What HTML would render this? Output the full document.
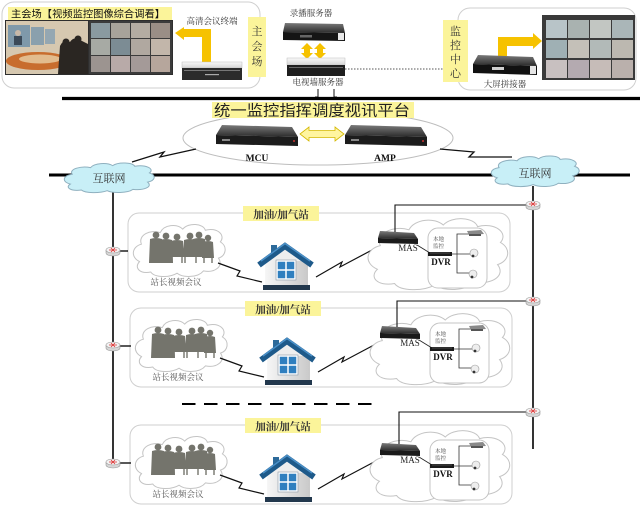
<!DOCTYPE html>
<html><head><meta charset="utf-8">
<style>
html,body{margin:0;padding:0;background:#fff;}
svg{display:block;}
text{font-family:"Liberation Serif","Noto Serif CJK SC",serif;}
.s{font-family:"Liberation Sans","Noto Sans CJK SC",sans-serif;}
</style></head><body>
<svg width="640" height="505" viewBox="0 0 640 505" xmlns="http://www.w3.org/2000/svg">
<defs>
 <linearGradient id="dk" x1="0" y1="0" x2="0" y2="1"><stop offset="0" stop-color="#7a7a7a"/><stop offset="1" stop-color="#2a2a2a"/></linearGradient>
 <linearGradient id="lt" x1="0" y1="0" x2="0" y2="1"><stop offset="0" stop-color="#fafafa"/><stop offset="1" stop-color="#d4d4d4"/></linearGradient>
 <linearGradient id="wall" x1="0" y1="0" x2="1" y2="0"><stop offset="0" stop-color="#f6f6f6"/><stop offset="1" stop-color="#c9c9c9"/></linearGradient>
 <g id="rt">
  <path d="M-7,-1 v3 a7,3 0 0 0 14,0 v-3" fill="#d6d6d6" stroke="#999" stroke-width=".6"/>
  <ellipse cx="0" cy="-1" rx="7" ry="3" fill="#f3f3f3" stroke="#999" stroke-width=".6"/>
  <path d="M-4,-1 h8 M-2,-3 l4,4 M2,-3 l-4,4" stroke="#d33" stroke-width=".8" fill="none"/>
 </g>
 <g id="station">
  <rect x="128" y="213" width="382" height="79" rx="11" fill="#fff" stroke="#cfcfcf"/>
  <path d="M8,70 C-2,62 0,44 10,40 C6,24 20,14 30,20 C34,6 48,4 54,14 C60,2 76,4 78,16 C90,10 100,24 94,36 C102,44 100,60 92,64 C98,78 88,90 76,86 C70,98 54,98 48,90 C40,98 24,98 20,88 C8,92 2,80 8,70 Z" transform="translate(132,221) scale(.94,.58)" fill="#fff" stroke="#c4c4c4" vector-effect="non-scaling-stroke"/>
  <g fill="#74746c">
   <circle cx="156" cy="235" r="3.4"/><path d="M150,239 Q156,237 162,239 L163,263 L149,263 Z"/>
   <circle cx="166" cy="236" r="3.4"/><path d="M160,240 Q166,238 172,240 L173,263 L159,263 Z"/>
   <circle cx="177" cy="237" r="3.4"/><path d="M171,241 Q177,239 183,241 L184,257 L170,257 Z"/>
   <circle cx="190" cy="236" r="3.4"/><path d="M184,240 Q190,238 196,240 L197,257 L183,257 Z"/>
   <circle cx="199" cy="235" r="3.4"/><path d="M193,239 Q199,237 205,239 L206,257 L192,257 Z"/>
   <circle cx="208" cy="238" r="3.2"/><path d="M203,242 Q208,240 213,242 L214,258 L202,258 Z"/>
   <rect x="168" y="250" width="40" height="3"/>
  </g>
  <path d="M172,257 v6 M182,257 v6 M185,257 v6 M196,257 v6 M204,258 v5 M212,258 v5" stroke="#74746c" stroke-width="1.4"/>
  <text x="176" y="285" text-anchor="middle" font-size="8.5" fill="#555">站长视频会议</text>
  <polyline points="218,263 240,271 237,276 262,282" fill="none" stroke="#111" stroke-width="1.2"/>
  <rect x="271" y="245" width="6" height="10" fill="#2d6a9a"/>
  <rect x="265" y="258" width="43" height="28" fill="url(#wall)"/>
  <polygon points="266,261 285,248 306,261" fill="#eeeeee"/>
  <path d="M259,265 L285,246 L312,265" fill="none" stroke="#1e5a8a" stroke-width="6" stroke-linejoin="miter"/>
  <path d="M261,261 L285,243.5 L310,261" fill="none" stroke="#4a90c8" stroke-width="1.5"/>
  <rect x="277" y="261" width="18" height="18" fill="#2f7fbf" stroke="#fff" stroke-width="1.5"/>
  <path d="M286,261 v18 M277,270 h18" stroke="#fff" stroke-width="1.5"/>
  <rect x="276" y="260" width="20" height="20" fill="none" stroke="#8a9aa8" stroke-width=".6"/>
  <rect x="263" y="285" width="47" height="5" fill="#22384d"/>
  <polyline points="316,277 342,262 340,267 372,250" fill="none" stroke="#111" stroke-width="1.2"/>
  <path d="M8,70 C-2,62 0,44 10,40 C6,24 20,14 30,20 C34,6 48,4 54,14 C60,2 76,4 78,16 C90,10 100,24 94,36 C102,44 100,60 92,64 C98,78 88,90 76,86 C70,98 54,98 48,90 C40,98 24,98 20,88 C8,92 2,80 8,70 Z" transform="translate(366,214) scale(1.43,.79)" fill="#fff" stroke="#c4c4c4" vector-effect="non-scaling-stroke"/>
  <rect x="428" y="228" width="59" height="60" rx="10" fill="#fff" stroke="#c4c4c4"/>
  <polygon points="380,231 414,233 418,239 378,238" fill="url(#dk)"/>
  <polygon points="378,238 418,239 418,244 378,243" fill="#1a1a1a"/>
  <text x="408" y="251" text-anchor="middle" font-size="9" fill="#222">MAS</text>
  <line x1="417" y1="245" x2="430" y2="253" stroke="#222" stroke-width=".8"/>
  <rect x="428" y="252" width="24" height="4" fill="#1a1a1a"/>
  <line x1="430" y1="253" x2="450" y2="253" stroke="#777" stroke-width=".5"/>
  <text x="441" y="265" text-anchor="middle" font-size="9" font-weight="bold" fill="#111">DVR</text>
  <text x="433" y="241" font-size="5.5" fill="#444">本地</text>
  <text x="433" y="248" font-size="5.5" fill="#444">监控</text>
  <path d="M470,234 H457 V273 H470 M452,254 H471" fill="none" stroke="#333" stroke-width=".8"/>
  <polygon points="467,231 481,230 484,234 469,235" fill="#8a8a8a"/>
  <rect x="469" y="234" width="12" height="2" fill="#555"/>
  <circle cx="474" cy="253" r="4" fill="#eee" stroke="#999" stroke-width=".6"/>
  <circle cx="473" cy="256" r="1.4" fill="#333"/>
  <circle cx="473" cy="274" r="4" fill="#eee" stroke="#999" stroke-width=".6"/>
  <circle cx="472" cy="277" r="1.4" fill="#333"/>
  <rect x="243" y="206" width="76" height="15" fill="#fbf49a"/>
  <text x="281" y="218" text-anchor="middle" font-size="10.5" font-weight="bold" fill="#333">加油/加气站</text>
 </g>
</defs>

<rect x="2" y="2" width="258" height="86" rx="12" fill="#fff" stroke="#cfcfcf"/>
<rect x="8" y="7" width="164" height="13" fill="#fbf49a"/>
<text class="s" x="11" y="17.5" font-size="10" fill="#111" textLength="154" lengthAdjust="spacingAndGlyphs">主会场【视频监控图像综合调看】</text>
<rect x="5" y="20" width="168" height="55" fill="#2e2e2e"/>
<rect x="6" y="21" width="82" height="53" fill="#d6c8b0"/>
<rect x="8" y="25" width="22" height="22" fill="#7f99aa"/>
<rect x="31" y="27" width="13" height="18" fill="#8aa0ad"/>
<rect x="45" y="29" width="10" height="15" fill="#94a7b2"/>
<circle cx="18" cy="33" r="3" fill="#c8b8a8"/><rect x="14" y="36" width="8" height="9" fill="#3c4a58"/>
<ellipse cx="38" cy="61" rx="32" ry="9" fill="#c86d2e"/>
<ellipse cx="40" cy="59" rx="21" ry="4.5" fill="#e2bc8e"/>
<path d="M58,74 L60,46 Q64,38 70,42 Q74,36 80,40 L88,44 L88,74 Z" fill="#2a2622"/>
<circle cx="66" cy="42" r="3.5" fill="#2a2622"/><circle cx="78" cy="39" r="3.5" fill="#2a2622"/>
<rect x="89" y="21" width="83" height="53" fill="#3b3b3b"/>
<g>
 <rect x="91" y="23" width="19" height="15" fill="#8a9aa0"/><rect x="111" y="23" width="19" height="15" fill="#a8a39a"/><rect x="131" y="23" width="19" height="15" fill="#b4aca2"/><rect x="151" y="23" width="19" height="15" fill="#9a8e86"/>
 <rect x="91" y="39" width="19" height="16" fill="#a7aaa4"/><rect x="111" y="39" width="19" height="16" fill="#7c8c94"/><rect x="131" y="39" width="19" height="16" fill="#b0a8a0"/><rect x="151" y="39" width="19" height="16" fill="#c2b6aa"/>
 <rect x="91" y="56" width="19" height="16" fill="#9c9490"/><rect x="111" y="56" width="19" height="16" fill="#b8aaa8"/><rect x="131" y="56" width="19" height="16" fill="#a49a98"/><rect x="151" y="56" width="19" height="16" fill="#b6a69c"/>
</g>
<text x="212" y="24" text-anchor="middle" font-size="8.5" fill="#333">高清会议终端</text>
<path d="M202,62 V29 H184 V27 L175,33 L184,40 V37 H211 V62 Z" fill="#f6c200"/>
<rect x="202" y="29" width="9" height="33" fill="#f6c200"/>
<rect x="182" y="62" width="60" height="6" fill="url(#lt)" stroke="#bbb" stroke-width=".5"/>
<rect x="182" y="68" width="60" height="12" fill="#2b2b2b"/>
<rect x="184" y="70" width="56" height="1" fill="#777"/>
<rect x="205" y="74" width="14" height="1.2" fill="#aaa"/>
<rect x="248" y="17" width="18" height="60" fill="#fbf49a"/>
<text x="257" y="35" text-anchor="middle" font-size="11" fill="#333">主</text>
<text x="257" y="50" text-anchor="middle" font-size="11" fill="#333">会</text>
<text x="257" y="65" text-anchor="middle" font-size="11" fill="#333">场</text>
<text x="311" y="16" text-anchor="middle" font-size="8.5" fill="#333">录播服务器</text>
<polygon points="285,23 343,24 345,33 283,32" fill="url(#dk)"/>
<polygon points="283,32 345,33 345,41 283,40" fill="#151515"/>
<rect x="338" y="33" width="6" height="7" fill="#e8e8e8"/>
<rect x="300" y="35" width="12" height="2.5" fill="#666"/>
<polygon points="307,43 313,49 310,49 310,53 313,53 307,59 301,53 304,53 304,49 301,49" fill="#f6c200"/>
<polygon points="320,43 326,49 323,49 323,53 326,53 320,59 314,53 317,53 317,49 314,49" fill="#f6c200"/>
<rect x="287" y="58" width="58" height="7" fill="url(#lt)" stroke="#bbb" stroke-width=".5"/>
<rect x="287" y="65" width="58" height="11" fill="#1e1e1e"/>
<rect x="289" y="67" width="54" height="1" fill="#666"/>
<text x="318" y="85" text-anchor="middle" font-size="8.5" fill="#333">电视墙服务器</text>
<path d="M318,89 V97 M315,97 H318 M334,89 V97 M334,97 H337" stroke="#111" stroke-width="1"/>
<line x1="345" y1="69" x2="443" y2="69" stroke="#777" stroke-width="1.2" stroke-dasharray="1.5 1.5"/>
<rect x="458" y="8" width="178" height="82" rx="12" fill="#fff" stroke="#cfcfcf"/>
<rect x="443" y="20" width="25" height="62" fill="#fbf49a"/>
<text x="455.5" y="35" text-anchor="middle" font-size="11" fill="#333">监</text>
<text x="455.5" y="49" text-anchor="middle" font-size="11" fill="#333">控</text>
<text x="455.5" y="63" text-anchor="middle" font-size="11" fill="#333">中</text>
<text x="455.5" y="77" text-anchor="middle" font-size="11" fill="#333">心</text>
<path d="M498,56 V37 H533 V33 L542,41 L533,49 V46 H507 V56 Z" fill="#f6c200"/>
<polygon points="478,55 533,57 537,66 473,64" fill="url(#dk)"/>
<polygon points="473,64 537,66 537,75 473,73" fill="#111"/>
<rect x="530" y="66" width="6" height="8" fill="#e6e6e6"/>
<rect x="492" y="67" width="12" height="3" fill="#cfcfcf"/>
<text x="505" y="87" text-anchor="middle" font-size="8.5" fill="#333">大屏拼接器</text>
<rect x="542" y="15" width="93" height="65" fill="#3a3a3a"/>
<g>
 <rect x="546" y="20" width="21" height="18" fill="#b8c4c8"/><rect x="568" y="20" width="21" height="18" fill="#a9b2b0"/><rect x="590" y="20" width="21" height="18" fill="#c2c6c2"/><rect x="612" y="20" width="21" height="18" fill="#aab6b8"/>
 <rect x="546" y="40" width="21" height="18" fill="#9fb0b4"/><rect x="568" y="40" width="21" height="18" fill="#c4c0b8"/><rect x="590" y="40" width="21" height="18" fill="#b2bab8"/><rect x="612" y="40" width="21" height="18" fill="#bcb8b0"/>
 <rect x="546" y="60" width="21" height="18" fill="#c8c0c0"/><rect x="568" y="60" width="21" height="18" fill="#b4aab0"/><rect x="590" y="60" width="21" height="18" fill="#c6bcb8"/><rect x="612" y="60" width="21" height="18" fill="#bab0ac"/>
</g>

<line x1="62" y1="98.5" x2="640" y2="98.5" stroke="#000" stroke-width="3.2"/>

<ellipse cx="318" cy="138" rx="135" ry="27" fill="#fff" stroke="#bdbdbd"/>
<rect x="212" y="102" width="202" height="16" fill="#fbf49a"/>
<text class="s" x="214" y="115.5" font-size="15" fill="#222" textLength="196" lengthAdjust="spacingAndGlyphs">统一监控指挥调度视讯平台</text>
<polygon points="222,125 292,127 298,137 216,135" fill="url(#dk)"/>
<polygon points="216,135 298,137 298,146 216,144" fill="#1c1c1c"/>
<rect x="222" y="139" width="8" height="2" fill="#888"/>
<circle cx="294" cy="141" r="1" fill="#c33"/>
<polygon points="351,125 421,127 427,137 345,135" fill="url(#dk)"/>
<polygon points="345,135 427,137 427,146 345,144" fill="#1c1c1c"/>
<rect x="351" y="139" width="8" height="2" fill="#888"/>
<circle cx="423" cy="141" r="1" fill="#c33"/>
<polygon points="300,134 309,127 309,130.5 335,130.5 335,127 344,134 335,141 335,137.5 309,137.5 309,141" fill="#fff5a0" stroke="#d4b800" stroke-width=".8"/>
<text x="257" y="161" text-anchor="middle" font-size="9.5" font-weight="bold" fill="#111">MCU</text>
<text x="385" y="161" text-anchor="middle" font-size="9.5" font-weight="bold" fill="#111">AMP</text>
<polyline points="132,162 164,152 160,157 196,149" fill="none" stroke="#111" stroke-width="1.3"/>
<polyline points="440,149 474,152 469,157 512,157" fill="none" stroke="#111" stroke-width="1.3"/>

<line x1="49" y1="175" x2="630" y2="175" stroke="#000" stroke-width="3"/>
<line x1="113" y1="190" x2="113" y2="464" stroke="#000" stroke-width="1.6"/>
<line x1="533" y1="186" x2="533" y2="449" stroke="#000" stroke-width="1.6"/>
<path d="M8,70 C-2,62 0,44 10,40 C6,24 20,14 30,20 C34,6 48,4 54,14 C60,2 76,4 78,16 C90,10 100,24 94,36 C102,44 100,60 92,64 C98,78 88,90 76,86 C70,98 54,98 48,90 C40,98 24,98 20,88 C8,92 2,80 8,70 Z" transform="translate(63,161) scale(.92,.33)" fill="#c8eff7" stroke="#8fb0bf" vector-effect="non-scaling-stroke"/>
<text x="109" y="182" text-anchor="middle" font-size="11" fill="#333">互联网</text>
<path d="M8,70 C-2,62 0,44 10,40 C6,24 20,14 30,20 C34,6 48,4 54,14 C60,2 76,4 78,16 C90,10 100,24 94,36 C102,44 100,60 92,64 C98,78 88,90 76,86 C70,98 54,98 48,90 C40,98 24,98 20,88 C8,92 2,80 8,70 Z" transform="translate(490,154) scale(.9,.34)" fill="#c8eff7" stroke="#8fb0bf" vector-effect="non-scaling-stroke"/>
<text x="535" y="177" text-anchor="middle" font-size="11" fill="#333">互联网</text>

<use href="#station"/>
<use href="#station" transform="translate(2,95)"/>
<use href="#station" transform="translate(2,212)"/>

<line x1="182" y1="404" x2="374" y2="404" stroke="#000" stroke-width="2" stroke-dasharray="13.5 8.5"/>

<polyline points="395,232 395,205 526,205" fill="none" stroke="#111" stroke-width="1.1"/>
<polyline points="397,327 397,301 526,301" fill="none" stroke="#111" stroke-width="1.1"/>
<polyline points="399,444 399,412 526,412" fill="none" stroke="#111" stroke-width="1.1"/>
<line x1="119" y1="251" x2="128" y2="251" stroke="#111" stroke-width="1.4"/>
<line x1="119" y1="346" x2="131" y2="346" stroke="#111" stroke-width="1.4"/>
<line x1="119" y1="463" x2="131" y2="463" stroke="#111" stroke-width="1.4"/>
<use href="#rt" x="113" y="251"/>
<use href="#rt" x="113" y="346"/>
<use href="#rt" x="113" y="463"/>
<use href="#rt" x="533" y="205"/>
<use href="#rt" x="533" y="301"/>
<use href="#rt" x="533" y="412"/>
</svg>
</body></html>
